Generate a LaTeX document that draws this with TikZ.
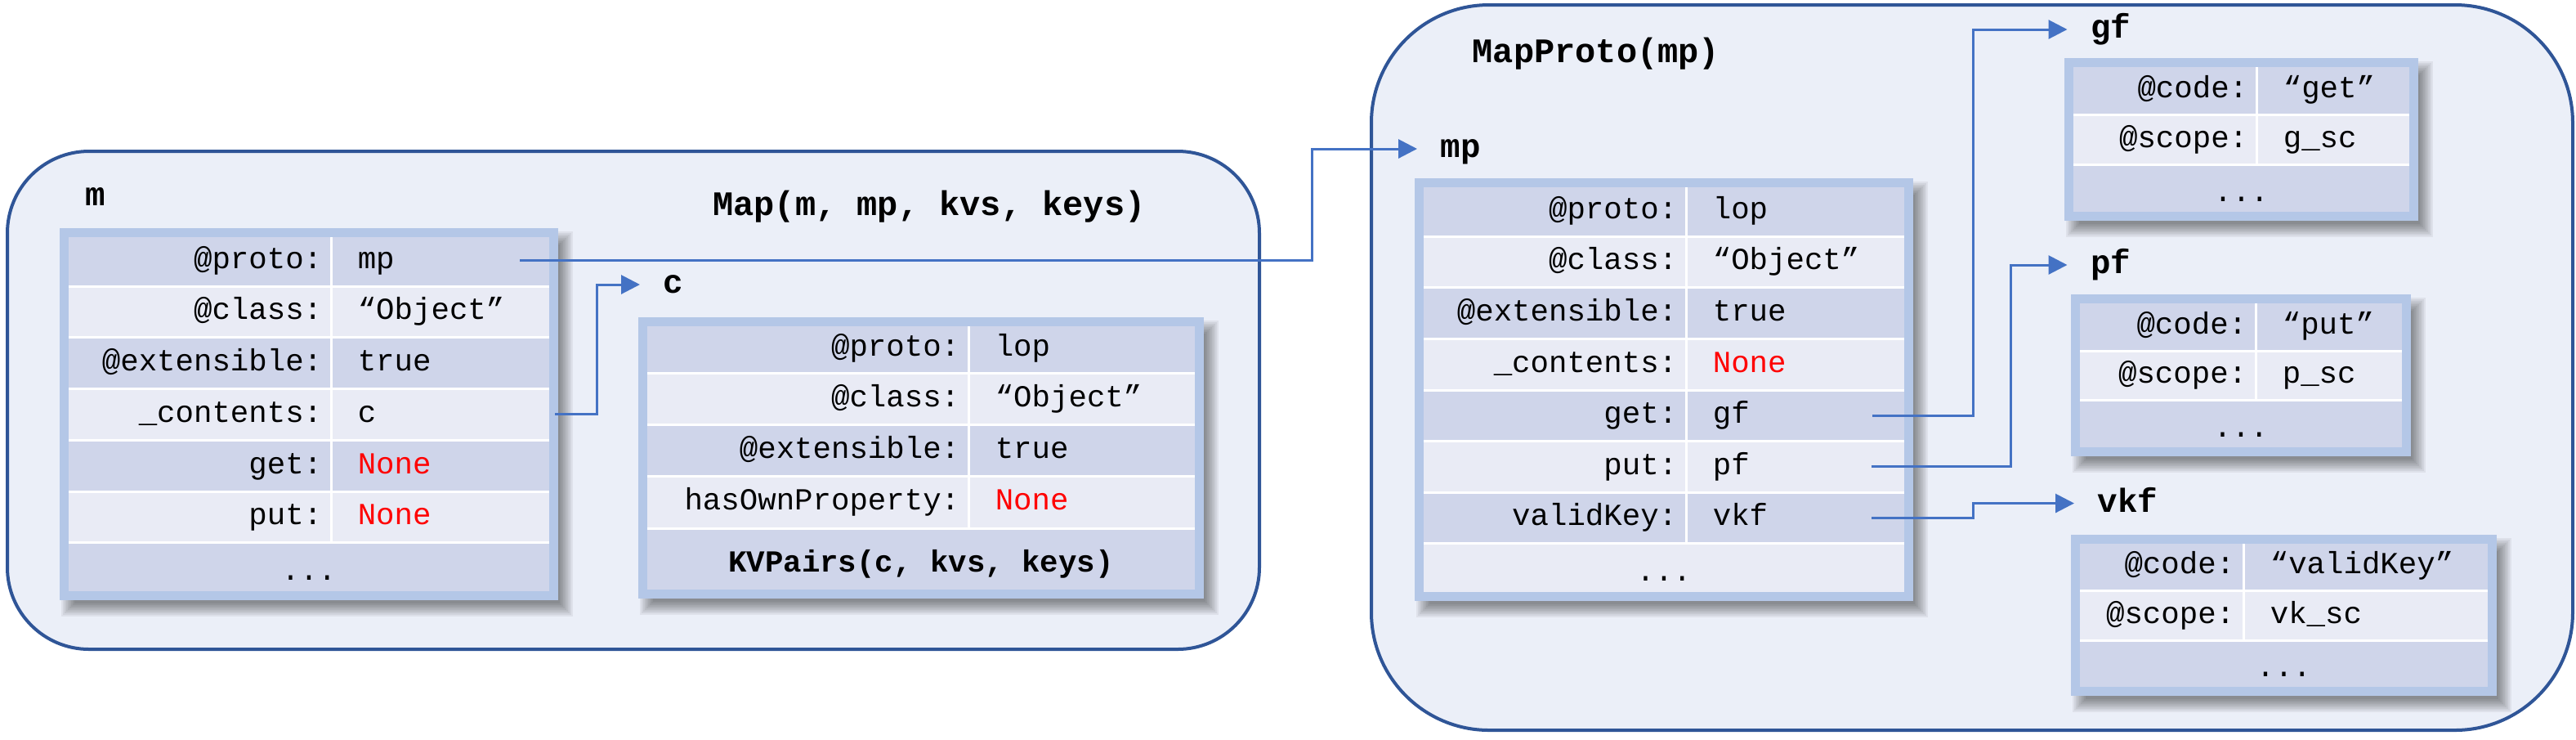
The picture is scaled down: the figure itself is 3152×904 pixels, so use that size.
\documentclass[tikz,border=0pt]{standalone}
\usepackage{fontspec}
\setmonofont{Liberation Mono}
\usetikzlibrary{arrows.meta,calc}
\definecolor{contfill}{HTML}{EBEFF8}
\definecolor{contline}{HTML}{2F5597}
\definecolor{rowdark}{HTML}{CFD5EA}
\definecolor{rowlight}{HTML}{E9EBF5}
\definecolor{tabborder}{HTML}{B4C7E7}
\definecolor{conncol}{HTML}{4472C4}
\definecolor{nonered}{HTML}{FF0000}
\tikzset{
  container/.style={draw=contline, fill=contfill, line width=1pt},
  cellbox/.style={rectangle, draw=white, line width=0.75pt, inner sep=0pt, outer sep=0pt},
  keytxt/.style={font=\ttfamily\fontsize{9.35}{11}\selectfont, inner sep=0pt, anchor=base east},
  valtxt/.style={font=\ttfamily\fontsize{9.35}{11}\selectfont, inner sep=0pt, anchor=base west},
  midtxt/.style={font=\ttfamily\fontsize{9.35}{11}\selectfont, inner sep=0pt, anchor=base},
  objlabel/.style={font=\ttfamily\bfseries\fontsize{10.2}{12}\selectfont, inner sep=0pt, anchor=west, text height=7.9pt, text depth=2.5pt},
  titletxt/.style={font=\ttfamily\bfseries\fontsize{10.5}{12}\selectfont, inner sep=0pt, anchor=base},
  conn/.style={draw=conncol, line width=0.75pt, -{Triangle[length=5.75pt,width=5.75pt]}, shorten >=7pt},
  tabframe/.style={draw=tabborder, line width=2.75pt},
}
\newcommand{\tabshadow}[4]{%
  \foreach \s in {-8,-6,...,8}{%
    \fill[black, opacity=0.055] ({#1+10-\s},{#2+12-\s}) rectangle ({#3+10+\s},{#4+12+\s});
  }%
}
\newcommand{\kvrow}[9]{%
  \node[cellbox, fill=#7, minimum width={(#3-#2)*0.25pt}, minimum height={(#6-#5)*0.25pt}] (#1k) at ({(#2+#3)/2},{(#5+#6)/2}) {};
  \node[cellbox, fill=#7, minimum width={(#4-#3)*0.25pt}, minimum height={(#6-#5)*0.25pt}] (#1v) at ({(#3+#4)/2},{(#5+#6)/2}) {};
  \node[keytxt] (#1kt) at ({#3-10},{(#5+#6)/2+9.5}) {#8};
  \node[valtxt] (#1vt) at ({#3+32},{(#5+#6)/2+9.5}) {#9};
}
\newcommand{\fullrow}[7]{%
  \node[cellbox, fill=#6, minimum width={(#3-#2)*0.25pt}, minimum height={(#5-#4)*0.25pt}] (#1) at ({(#2+#3)/2},{(#4+#5)/2}) {};
  \node[midtxt] (#1t) at ({(#2+#3)/2},{(#4+#5)/2+14.5}) {#7};
}
\newcommand{\tabborder}[4]{%
  \draw[tabframe] ({#1-2.5},{#2-2.5}) rectangle ({#3+2.5},{#4+2.5});
}
\newcommand{\nonetxt}{\textcolor{nonered}{None}}
\begin{document}
\begin{tikzpicture}[x=0.25pt, y=-0.25pt]
\useasboundingbox (0,0) rectangle (3152,904);
% containers
\draw[container, rounded corners=25pt] (9,185) rectangle (1541,794);
\draw[container, rounded corners=36pt] (1678,6) rectangle (3148,893);
% titles
\node[titletxt] (maptitle) at (1137,263) {Map(m, mp, kvs, keys)};
\node[titletxt] (mptitle) at (1953,76) {MapProto(mp)};
% object labels
\node[objlabel] (mlab) at (104,241) {m};
\node[objlabel] (clab) at (811,348) {c};
\node[objlabel] (mplab) at (1762,182) {mp};
\node[objlabel] (gflab) at (2557.5,36) {gf};
\node[objlabel] (pflab) at (2557.5,324) {pf};
\node[objlabel] (vkflab) at (2566,615.5) {vkf};
% shadows
\tabshadow{73}{279}{683}{734}
\tabshadow{781}{388}{1473}{732}
\tabshadow{1731}{218}{2341}{735}
\tabshadow{2526}{71}{2959}{270}
\tabshadow{2534}{360}{2950}{558}
\tabshadow{2534}{654}{3055}{851}
% table m
\kvrow{mproto}{81}{405}{675}{287}{350}{rowdark}{@proto:}{mp}
\kvrow{mclass}{81}{405}{675}{350}{412}{rowlight}{@class:}{“Object”}
\kvrow{mext}{81}{405}{675}{412}{475}{rowdark}{@extensible:}{true}
\kvrow{mcont}{81}{405}{675}{475}{538}{rowlight}{\_contents:}{c}
\kvrow{mget}{81}{405}{675}{538}{601}{rowdark}{get:}{\nonetxt}
\kvrow{mput}{81}{405}{675}{601}{663}{rowlight}{put:}{\nonetxt}
\fullrow{mdots}{81}{675}{663}{726}{rowdark}{...}
\tabborder{81}{287}{675}{726}
% table c
\kvrow{cproto}{789}{1185}{1465}{396}{456}{rowdark}{@proto:}{lop}
\kvrow{cclass}{789}{1185}{1465}{456}{519}{rowlight}{@class:}{“Object”}
\kvrow{cext}{789}{1185}{1465}{519}{582}{rowdark}{@extensible:}{true}
\kvrow{chas}{789}{1185}{1465}{582}{646}{rowlight}{hasOwnProperty:}{\nonetxt}
\fullrow{ckv}{789}{1465}{646}{724}{rowdark}{\bfseries KVPairs(c, kvs, keys)}
\tabborder{789}{396}{1465}{724}
% table mp
\kvrow{mpproto}{1739}{2063}{2333}{226}{289}{rowdark}{@proto:}{lop}
\kvrow{mpclass}{1739}{2063}{2333}{289}{351}{rowlight}{@class:}{“Object”}
\kvrow{mpext}{1739}{2063}{2333}{351}{414}{rowdark}{@extensible:}{true}
\kvrow{mpcont}{1739}{2063}{2333}{414}{477}{rowlight}{\_contents:}{\nonetxt}
\kvrow{mpget}{1739}{2063}{2333}{477}{539}{rowdark}{get:}{gf}
\kvrow{mpput}{1739}{2063}{2333}{539}{602}{rowlight}{put:}{pf}
\kvrow{mpvk}{1739}{2063}{2333}{602}{664}{rowdark}{validKey:}{vkf}
\fullrow{mpdots}{1739}{2333}{664}{727}{rowlight}{...}
\tabborder{1739}{226}{2333}{727}
% table gf
\kvrow{gfcode}{2534}{2761}{2951}{79}{140}{rowdark}{@code:}{“get”}
\kvrow{gfscope}{2534}{2761}{2951}{140}{201}{rowlight}{@scope:}{g\_sc}
\fullrow{gfdots}{2534}{2951}{201}{262}{rowdark}{...}
\tabborder{2534}{79}{2951}{262}
% table pf
\kvrow{pfcode}{2542}{2760}{2942}{368}{429}{rowdark}{@code:}{“put”}
\kvrow{pfscope}{2542}{2760}{2942}{429}{489}{rowlight}{@scope:}{p\_sc}
\fullrow{pfdots}{2542}{2942}{489}{550}{rowdark}{...}
\tabborder{2542}{368}{2942}{550}
% table vkf
\kvrow{vkcode}{2542}{2745}{3047}{662}{722}{rowdark}{@code:}{“validKey”}
\kvrow{vkscope}{2542}{2745}{3047}{722}{783}{rowlight}{@scope:}{vk\_sc}
\fullrow{vkdots}{2542}{3047}{783}{843}{rowdark}{...}
\tabborder{2542}{662}{3047}{843}
% routing columns
\coordinate (jc) at (730,0);
\coordinate (jmp) at (1605,0);
\coordinate (jgf) at (2414,0);
\coordinate (jpf) at (2460,0);
\coordinate (jvk) at (2414,0);
% connectors
\draw[conn] ($(mprotov.east)+(-39,0)$) -| (jmp |- mplab.west) -- (mplab.west);
\draw[conn] ($(mcontv.east)+(4,0)$) -| (jc |- clab.west) -- (clab.west);
\draw[conn] ($(mpgetv.east)+(-42,0)$) -| (jgf |- gflab.west) -- (gflab.west);
\draw[conn] ($(mpputv.east)+(-43,0)$) -| (jpf |- pflab.west) -- (pflab.west);
\draw[conn] ($(mpvkv.east)+(-43,0)$) -| (jvk |- vkflab.west) -- (vkflab.west);
\end{tikzpicture}
\end{document}
